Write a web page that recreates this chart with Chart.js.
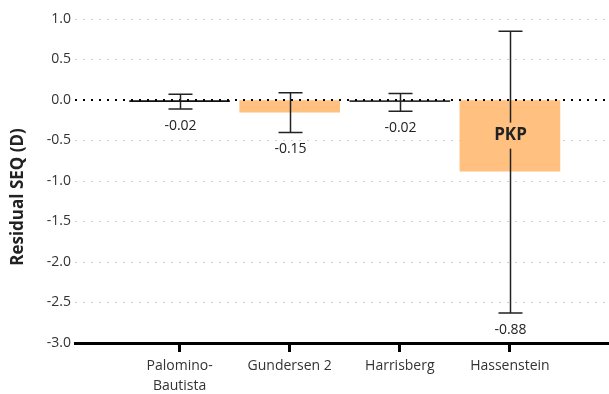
<!DOCTYPE html>
<html>
<head>
<meta charset="utf-8">
<script src="https://cdn.jsdelivr.net/npm/chart.js@4.4.1/dist/chart.umd.min.js"></script>
<style>
  html, body { margin: 0; padding: 0; background: #fff; }
  .chart-container { width: 609px; height: 394px; }
</style>
</head>
<body>
<div class="chart-container">
  <canvas id="seqChart" width="609" height="394"></canvas>
</div>
<script>
// data
const studies = [['Palomino-', 'Bautista'], 'Gundersen 2', 'Harrisberg', 'Hassenstein'];
const residuals = [-0.02, -0.15, -0.02, -0.88];
const errHigh = [0.07, 0.09, 0.08, 0.85];
const errLow = [-0.11, -0.40, -0.14, -2.63];
const barColors = ['#111111', '#ffc080', '#333333', '#ffc080'];
const barTags = ['', '', '', 'PKP'];
const yTicks = [1.0, 0.5, 0.0, -0.5, -1.0, -1.5, -2.0, -2.5, -3.0];
const yTitle = 'Residual SEQ (D)';

const FONT = "'Open Sans', 'Noto Sans', sans-serif";

// dotted zero line, error bars, value labels and the y title
const overlayPlugin = {
  id: 'overlay',
  afterDatasetsDraw(chart) {
    const { ctx, chartArea, scales } = chart;
    const x = scales.x, y = scales.y;
    ctx.save();

    // zero line on top of the bars
    const y0 = y.getPixelForValue(0);
    ctx.strokeStyle = '#000';
    ctx.lineWidth = 2;
    ctx.setLineDash([2, 6]);
    ctx.beginPath();
    ctx.moveTo(chartArea.left, y0);
    ctx.lineTo(chartArea.right, y0);
    ctx.stroke();
    ctx.setLineDash([]);

    residuals.forEach((v, i) => {
      const cx = Math.round(x.getPixelForValue(i)) + 0.5;
      const yh = y.getPixelForValue(errHigh[i]);
      const yl = y.getPixelForValue(errLow[i]);

      // error bar
      ctx.strokeStyle = '#222';
      ctx.lineWidth = 1.5;
      ctx.beginPath();
      ctx.moveTo(cx, yh);
      ctx.lineTo(cx, yl);
      ctx.moveTo(cx - 12, yh);
      ctx.lineTo(cx + 12, yh);
      ctx.moveTo(cx - 12, yl);
      ctx.lineTo(cx + 12, yl);
      ctx.stroke();

      // value under the lower cap
      ctx.fillStyle = '#222';
      ctx.font = '14px ' + FONT;
      ctx.textAlign = 'center';
      ctx.textBaseline = 'middle';
      ctx.fillText(v.toFixed(2), cx, yl + 17);

      // tag inside the bar
      if (barTags[i]) {
        const mid = (y.getPixelForValue(0) + y.getPixelForValue(v)) / 2;
        ctx.font = 'bold 17px ' + FONT;
        const w = ctx.measureText(barTags[i]).width;
        ctx.fillStyle = barColors[i];
        ctx.fillRect(cx - w / 2 - 2, mid - 13, w + 4, 26);
        ctx.fillStyle = '#222';
        ctx.fillText(barTags[i], cx, mid);
      }
    });

    // y axis title, centred on the canvas height
    ctx.translate(18, chart.height / 2);
    ctx.rotate(-Math.PI / 2);
    ctx.font = 'bold 17px ' + FONT;
    ctx.fillStyle = '#222';
    ctx.textAlign = 'center';
    ctx.textBaseline = 'middle';
    ctx.fillText(yTitle, 0, 0);
    ctx.restore();
  }
};

const data = {
  datasets: [{
    label: 'Residual SEQ',
    data: residuals.map((v, i) => ({ x: i, y: v })),
    backgroundColor: barColors,
    borderWidth: 0,
    barThickness: 100,
  }]
};

const config = {
  type: 'bar',
  data: data,
  options: {
    responsive: false,
    animation: false,
    layout: { padding: { top: 19, right: 0, left: 0, bottom: 0 } },
    plugins: {
      legend: { display: false },
      tooltip: { enabled: false },
    },
    scales: {
      x: {
        type: 'linear',
        offset: false,
        min: -0.95,
        max: 3.9,
        afterBuildTicks: (scale) => {
          scale.ticks = studies.map((s, i) => ({ value: i }));
        },
        afterFit: (scale) => { scale.height = 51; },
        ticks: {
          autoSkip: false,
          maxRotation: 0,
          padding: 4,
          color: '#333',
          font: { family: FONT, size: 14, lineHeight: 1.43 },
          callback: (v) => studies[v],
        },
        grid: {
          offset: false,
          drawOnChartArea: false,
          drawTicks: true,
          tickLength: 9,
          tickWidth: 3,
          tickColor: '#000',
        },
        border: { display: true, width: 3, color: '#000' },
      },
      y: {
        min: -3,
        max: 1,
        afterBuildTicks: (scale) => {
          scale.ticks = yTicks.map(v => ({ value: v }));
        },
        afterFit: (scale) => { scale.width = 75; },
        ticks: {
          padding: 4,
          color: '#333',
          font: { family: FONT, size: 14 },
          callback: (v) => v.toFixed(1),
        },
        grid: {
          drawTicks: false,
          color: (c) => c.tick && c.tick.value === 0 ? 'rgba(0,0,0,0)' : '#cfcfcf',
          lineWidth: 1,
        },
        border: { display: false, dash: [2, 6] },
      },
    },
  },
  plugins: [overlayPlugin],
};

new Chart(document.getElementById('seqChart'), config);
</script>
</body>
</html>
